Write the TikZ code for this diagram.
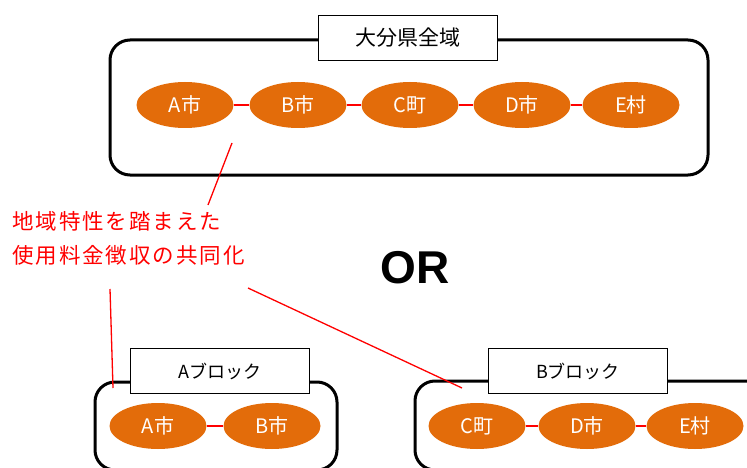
\documentclass[tikz,border=0pt]{standalone}
\usepackage{fontspec}
\setmainfont{Noto Sans CJK JP}
\newfontfamily\orfont{Liberation Sans}
\newfontfamily\notefont[LetterSpace=9]{Noto Sans CJK JP}
\usetikzlibrary{shapes.geometric}
\definecolor{orng}{HTML}{E36C0A}
\tikzset{
  area/.style={draw=black, line width=3pt, rounded corners=20pt},
  titlebox/.style={draw=black, line width=1.3pt, fill=white, minimum width=179pt, minimum height=45pt, inner sep=0pt, font=\fontsize{18}{20}\selectfont},
  town/.style={ellipse, fill=orng, text=white, minimum width=97pt, minimum height=46pt, inner sep=0pt, font=\fontsize{20}{22}\selectfont},
  link/.style={draw=red, line width=1.3pt},
  note/.style={draw=red, line width=1.3pt},
}
\begin{document}
\begin{tikzpicture}[x=1pt,y=-1pt]
\useasboundingbox (0,0) rectangle (747,468);
\clip (0,0) rectangle (747,468);
\fill[white] (0,0) rectangle (747,468);
% areas
\draw[area] (110,40) rectangle (708,175);
\draw[area] (95,382) rectangle (337,470);
\draw[area] (415,381) rectangle (780,470);
% titles
\node[titlebox, font=\fontsize{21}{22}\selectfont] (tAll) at (408,38) {大分県全域};
\node[titlebox] (tA) at (220,371) {Aブロック};
\node[titlebox] (tB) at (578,371) {Bブロック};
% top row
\node[town] (a1) at (185,105) {A市};
\node[town] (b1) at (298,105) {B市};
\node[town] (c1) at (410,105) {C町};
\node[town] (d1) at (522,105) {D市};
\node[town] (e1) at (631,105) {E村};
\draw[link] (a1) -- (b1);
\draw[link] (b1) -- (c1);
\draw[link] (c1) -- (d1);
\draw[link] (d1) -- (e1);
% bottom rows
\node[town] (a2) at (158,426) {A市};
\node[town] (b2) at (272,426) {B市};
\draw[link] (a2) -- (b2);
\node[town] (c2) at (477,426) {C町};
\node[town] (d2) at (587,426) {D市};
\node[town] (e2) at (695,426) {E村};
\draw[link] (c2) -- (d2);
\draw[link] (d2) -- (e2);
% note
\node[text=red, align=left, anchor=north west, inner sep=0pt, font=\notefont\fontsize{21.5}{34}\selectfont] (nt) at (12,211) {地域特性を踏まえた\\使用料金徴収の共同化};
\coordinate (p1a) at (232,143);
\coordinate (p1b) at (208,205);
\coordinate (p2a) at (110,289);
\coordinate (p2b) at (113,388);
\coordinate (p3a) at (248,288);
\coordinate (p3b) at (462,388);
\draw[note] (p1a) -- (p1b);
\draw[note] (p2a) -- (p2b);
\draw[note] (p3a) -- (p3b);
% OR
\node[font=\orfont\bfseries\fontsize{46}{50}\selectfont] (or) at (415,268) {OR};
\end{tikzpicture}
\end{document}
